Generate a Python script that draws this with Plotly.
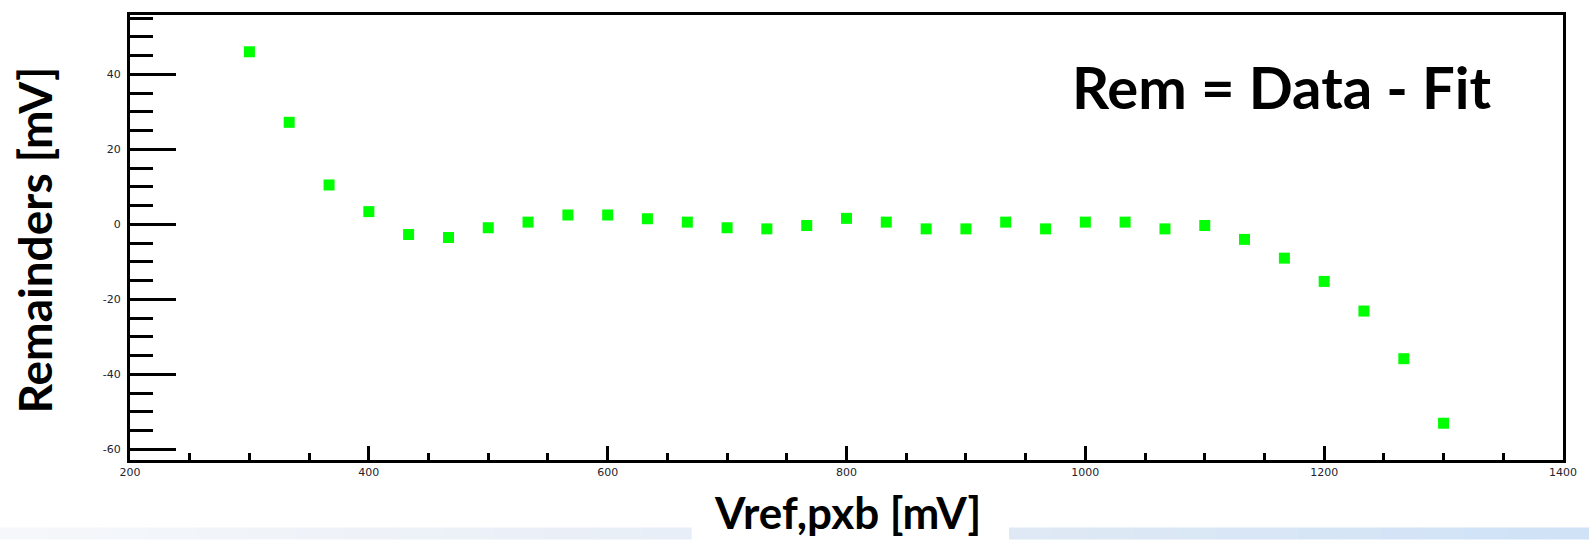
import plotly.graph_objects as go

# ---- data ----
vref_mv = [300.0, 333.3, 366.7, 400.0, 433.3, 466.7, 500.0, 533.3, 566.7, 600.0,
           633.3, 666.7, 700.0, 733.3, 766.7, 800.0, 833.3, 866.7, 900.0, 933.3,
           966.7, 1000.0, 1033.3, 1066.7, 1100.0, 1133.3, 1166.7, 1200.0, 1233.3,
           1266.7, 1300.0]
remainder_mv = [46.0, 27.2, 10.5, 3.4, -2.7, -3.5, -0.9, 0.6, 2.5, 2.5,
                1.5, 0.6, -0.9, -1.2, -0.3, 1.6, 0.6, -1.2, -1.2, 0.6,
                -1.2, 0.6, 0.6, -1.2, -0.3, -4.0, -9.0, -15.2, -23.1,
                -35.8, -53.0]
x_tick_vals = [200, 400, 600, 800, 1000, 1200, 1400]
x_tick_text = ["200", "400", "600", "800", "1000", "1200", "1400"]
y_tick_vals = [-60, -40, -20, 0, 20, 40]
y_tick_text = ["-60", "-40", "-20", "0", "20", "40"]
x_range = [200, 1400]
y_range = [-62.8, 55.8]

# ---- layout geometry (pixels) ----
W, H = 1589, 540
ML, MR, MT, MB = 130, 26, 12, 80
PW = W - ML - MR
PH = H - MT - MB


def px_to_paper_x(px):
    return (px - ML) / PW


def px_to_paper_y(py):
    return (H - MB - py) / PH


fig = go.Figure()
fig.add_trace(go.Scatter(
    x=vref_mv, y=remainder_mv, mode="markers",
    marker=dict(symbol="square", size=11, color="#00ff00", line=dict(width=0)),
    showlegend=False, cliponaxis=False,
))

tick_font = dict(family="DejaVu Sans", size=11, color="#23232f")

fig.update_layout(
    width=W, height=H,
    margin=dict(l=ML, r=MR, t=MT, b=MB, pad=0),
    paper_bgcolor="white", plot_bgcolor="white",
    xaxis=dict(
        range=x_range, tickvals=x_tick_vals, ticktext=x_tick_text,
        ticks="inside", ticklen=14, tickwidth=3, tickcolor="black",
        showline=True, linewidth=3, linecolor="black", mirror=True,
        showgrid=False, zeroline=False, tickfont=tick_font,
        minor=dict(dtick=50, tick0=200, ticks="inside", ticklen=7, tickwidth=3,
                   tickcolor="black", showgrid=False),
    ),
    yaxis=dict(
        range=y_range, tickvals=y_tick_vals, ticktext=y_tick_text,
        ticks="inside", ticklen=46, tickwidth=3, tickcolor="black",
        showline=True, linewidth=3, linecolor="black", mirror=True,
        showgrid=False, zeroline=False, tickfont=tick_font,
        ticklabelstandoff=4,
        minor=dict(dtick=5, tick0=0, ticks="inside", ticklen=23, tickwidth=3,
                   tickcolor="black", showgrid=False),
    ),
)

# ---- bottom decorative band (slide background) ----
shapes = []
band_top, band_bot = 528, 540
segments = [
    (0, 691, (245, 247, 250), (232, 238, 247)),
    (1009, 1589, (223, 233, 245), (207, 226, 246)),
]
steps = 14
for x0, x1, c0, c1 in segments:
    for i in range(steps):
        a = x0 + (x1 - x0) * i / steps
        b = x0 + (x1 - x0) * (i + 1) / steps
        t = i / (steps - 1)
        col = "rgb(%d,%d,%d)" % tuple(round(c0[j] + (c1[j] - c0[j]) * t) for j in range(3))
        shapes.append(dict(type="rect", xref="paper", yref="paper",
                           x0=px_to_paper_x(a), x1=px_to_paper_x(b) + 0.0005,
                           y0=px_to_paper_y(band_bot), y1=px_to_paper_y(band_top),
                           fillcolor=col, line=dict(width=0), layer="below"))
fig.update_layout(shapes=shapes)

fig.add_annotation(text="<b>Vref,pxb [mV]</b>", xref="paper", yref="paper",
                   x=px_to_paper_x(847), y=px_to_paper_y(512),
                   xanchor="center", yanchor="middle", showarrow=False,
                   font=dict(family="Lato", size=44, color="black"))
fig.add_annotation(text="<b>Remainders [mV]</b>", xref="paper", yref="paper",
                   x=px_to_paper_x(34), y=px_to_paper_y(239), textangle=-90,
                   xanchor="center", yanchor="middle", showarrow=False,
                   font=dict(family="Lato", size=46, color="black"))
fig.add_annotation(text="<b>Rem = Data - Fit</b>", xref="paper", yref="paper",
                   x=px_to_paper_x(1281), y=px_to_paper_y(84),
                   xanchor="center", yanchor="middle", showarrow=False,
                   font=dict(family="Lato", size=58, color="black"))

fig.write_html("out.html")
